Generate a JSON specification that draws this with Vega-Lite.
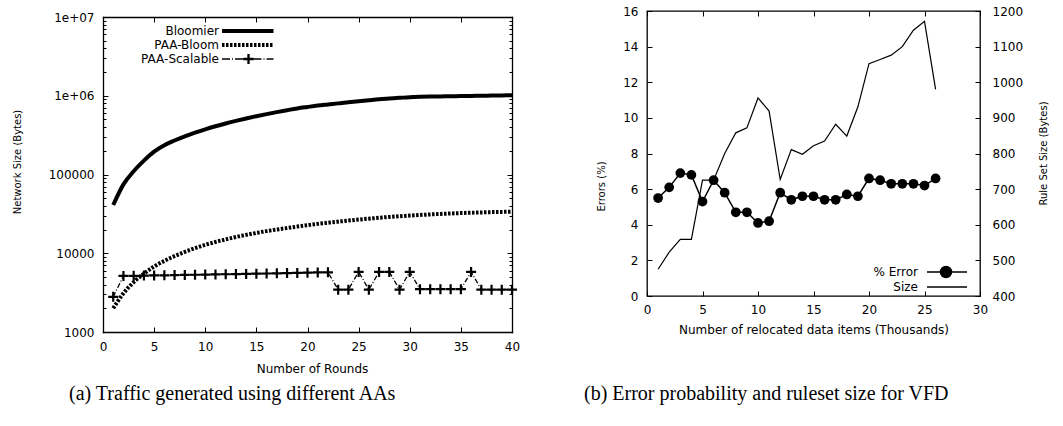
{
 "$schema": "https://vega.github.io/schema/vega-lite/v6.json",
 "background": "white",
 "padding": {"left": 11, "top": 4, "right": 0, "bottom": 0},
 "spacing": 60,
 "columns": 2,
 "align": "none",
 "datasets": {
  "rounds": [
   {"r":1,"v":41000,"s":"Bloomier"},{"r":2,"v":75000,"s":"Bloomier"},{"r":3,"v":110000,"s":"Bloomier"},{"r":4,"v":150000,"s":"Bloomier"},{"r":5,"v":195000,"s":"Bloomier"},{"r":6,"v":235000,"s":"Bloomier"},{"r":7,"v":270000,"s":"Bloomier"},{"r":8,"v":305000,"s":"Bloomier"},{"r":9,"v":340000,"s":"Bloomier"},{"r":10,"v":375000,"s":"Bloomier"},
   {"r":11,"v":410000,"s":"Bloomier"},{"r":12,"v":445000,"s":"Bloomier"},{"r":13,"v":480000,"s":"Bloomier"},{"r":14,"v":515000,"s":"Bloomier"},{"r":15,"v":550000,"s":"Bloomier"},{"r":16,"v":585000,"s":"Bloomier"},{"r":17,"v":620000,"s":"Bloomier"},{"r":18,"v":655000,"s":"Bloomier"},{"r":19,"v":690000,"s":"Bloomier"},{"r":20,"v":720000,"s":"Bloomier"},
   {"r":21,"v":750000,"s":"Bloomier"},{"r":22,"v":775000,"s":"Bloomier"},{"r":23,"v":800000,"s":"Bloomier"},{"r":24,"v":825000,"s":"Bloomier"},{"r":25,"v":850000,"s":"Bloomier"},{"r":26,"v":875000,"s":"Bloomier"},{"r":27,"v":900000,"s":"Bloomier"},{"r":28,"v":920000,"s":"Bloomier"},{"r":29,"v":940000,"s":"Bloomier"},{"r":30,"v":960000,"s":"Bloomier"},
   {"r":31,"v":970000,"s":"Bloomier"},{"r":32,"v":975000,"s":"Bloomier"},{"r":33,"v":980000,"s":"Bloomier"},{"r":34,"v":985000,"s":"Bloomier"},{"r":35,"v":990000,"s":"Bloomier"},{"r":36,"v":995000,"s":"Bloomier"},{"r":37,"v":1000000,"s":"Bloomier"},{"r":38,"v":1005000,"s":"Bloomier"},{"r":39,"v":1010000,"s":"Bloomier"},{"r":40,"v":1015000,"s":"Bloomier"},
   {"r":1,"v":2000,"s":"PAA-Bloom"},{"r":2,"v":3100,"s":"PAA-Bloom"},{"r":3,"v":4300,"s":"PAA-Bloom"},{"r":4,"v":5500,"s":"PAA-Bloom"},{"r":5,"v":6800,"s":"PAA-Bloom"},{"r":6,"v":8000,"s":"PAA-Bloom"},{"r":7,"v":9200,"s":"PAA-Bloom"},{"r":8,"v":10400,"s":"PAA-Bloom"},{"r":9,"v":11600,"s":"PAA-Bloom"},{"r":10,"v":12800,"s":"PAA-Bloom"},
   {"r":11,"v":13900,"s":"PAA-Bloom"},{"r":12,"v":15000,"s":"PAA-Bloom"},{"r":13,"v":16100,"s":"PAA-Bloom"},{"r":14,"v":17100,"s":"PAA-Bloom"},{"r":15,"v":18100,"s":"PAA-Bloom"},{"r":16,"v":19100,"s":"PAA-Bloom"},{"r":17,"v":20000,"s":"PAA-Bloom"},{"r":18,"v":20900,"s":"PAA-Bloom"},{"r":19,"v":21800,"s":"PAA-Bloom"},{"r":20,"v":22700,"s":"PAA-Bloom"},
   {"r":21,"v":23600,"s":"PAA-Bloom"},{"r":22,"v":24400,"s":"PAA-Bloom"},{"r":23,"v":25200,"s":"PAA-Bloom"},{"r":24,"v":26000,"s":"PAA-Bloom"},{"r":25,"v":26800,"s":"PAA-Bloom"},{"r":26,"v":27500,"s":"PAA-Bloom"},{"r":27,"v":28200,"s":"PAA-Bloom"},{"r":28,"v":28900,"s":"PAA-Bloom"},{"r":29,"v":29500,"s":"PAA-Bloom"},{"r":30,"v":30100,"s":"PAA-Bloom"},
   {"r":31,"v":30600,"s":"PAA-Bloom"},{"r":32,"v":31100,"s":"PAA-Bloom"},{"r":33,"v":31600,"s":"PAA-Bloom"},{"r":34,"v":32000,"s":"PAA-Bloom"},{"r":35,"v":32400,"s":"PAA-Bloom"},{"r":36,"v":32700,"s":"PAA-Bloom"},{"r":37,"v":33000,"s":"PAA-Bloom"},{"r":38,"v":33300,"s":"PAA-Bloom"},{"r":39,"v":33500,"s":"PAA-Bloom"},{"r":40,"v":33700,"s":"PAA-Bloom"},
   {"r":1,"v":2800,"s":"PAA-Scalable"},{"r":2,"v":5150,"s":"PAA-Scalable"},{"r":3,"v":5170,"s":"PAA-Scalable"},{"r":4,"v":5200,"s":"PAA-Scalable"},{"r":5,"v":5230,"s":"PAA-Scalable"},{"r":6,"v":5250,"s":"PAA-Scalable"},{"r":7,"v":5280,"s":"PAA-Scalable"},{"r":8,"v":5300,"s":"PAA-Scalable"},{"r":9,"v":5330,"s":"PAA-Scalable"},{"r":10,"v":5360,"s":"PAA-Scalable"},
   {"r":11,"v":5380,"s":"PAA-Scalable"},{"r":12,"v":5410,"s":"PAA-Scalable"},{"r":13,"v":5440,"s":"PAA-Scalable"},{"r":14,"v":5470,"s":"PAA-Scalable"},{"r":15,"v":5500,"s":"PAA-Scalable"},{"r":16,"v":5530,"s":"PAA-Scalable"},{"r":17,"v":5560,"s":"PAA-Scalable"},{"r":18,"v":5600,"s":"PAA-Scalable"},{"r":19,"v":5630,"s":"PAA-Scalable"},{"r":20,"v":5660,"s":"PAA-Scalable"},
   {"r":21,"v":5700,"s":"PAA-Scalable"},{"r":22,"v":5730,"s":"PAA-Scalable"},{"r":23,"v":3450,"s":"PAA-Scalable"},{"r":24,"v":3450,"s":"PAA-Scalable"},{"r":25,"v":5800,"s":"PAA-Scalable"},{"r":26,"v":3450,"s":"PAA-Scalable"},{"r":27,"v":5800,"s":"PAA-Scalable"},{"r":28,"v":5800,"s":"PAA-Scalable"},{"r":29,"v":3450,"s":"PAA-Scalable"},{"r":30,"v":5800,"s":"PAA-Scalable"},
   {"r":31,"v":3500,"s":"PAA-Scalable"},{"r":32,"v":3500,"s":"PAA-Scalable"},{"r":33,"v":3500,"s":"PAA-Scalable"},{"r":34,"v":3500,"s":"PAA-Scalable"},{"r":35,"v":3500,"s":"PAA-Scalable"},{"r":36,"v":5800,"s":"PAA-Scalable"},{"r":37,"v":3450,"s":"PAA-Scalable"},{"r":38,"v":3450,"s":"PAA-Scalable"},{"r":39,"v":3450,"s":"PAA-Scalable"},{"r":40,"v":3450,"s":"PAA-Scalable"}
  ],
  "reloc": [
   {"k":1,"e":5.5,"z":475},{"k":2,"e":6.1,"z":523},{"k":3,"e":6.9,"z":559},{"k":4,"e":6.8,"z":559},{"k":5,"e":5.3,"z":725},{"k":6,"e":6.5,"z":725},{"k":7,"e":5.8,"z":800},{"k":8,"e":4.7,"z":858},{"k":9,"e":4.7,"z":872},{"k":10,"e":4.1,"z":956},
   {"k":11,"e":4.2,"z":919},{"k":12,"e":5.8,"z":727},{"k":13,"e":5.4,"z":811},{"k":14,"e":5.6,"z":798},{"k":15,"e":5.6,"z":822},{"k":16,"e":5.4,"z":835},{"k":17,"e":5.4,"z":882},{"k":18,"e":5.7,"z":849},{"k":19,"e":5.6,"z":931},{"k":20,"e":6.6,"z":1052},
   {"k":21,"e":6.5,"z":1064},{"k":22,"e":6.3,"z":1076},{"k":23,"e":6.3,"z":1100},{"k":24,"e":6.3,"z":1146},{"k":25,"e":6.2,"z":1171},{"k":26,"e":6.6,"z":980}
  ]
 },
 "config": {
  "font": "DejaVu Sans",
  "view": {"stroke": "black", "strokeWidth": 1.3},
  "axis": {"grid": false, "domain": false, "domainColor": "black", "domainWidth": 1.3, "domainCap": "square", "tickColor": "black", "tickWidth": 1, "tickSize": -5, "labelColor": "black", "labelFont": "DejaVu Sans", "labelFontSize": 12, "titleColor": "black", "titleFont": "DejaVu Sans", "titleFontWeight": "normal", "labelFlush": false, "labelOverlap": false, "labelBound": false},
  "legend": {"labelFont": "DejaVu Sans", "labelFontSize": 12, "labelColor": "black", "padding": 0, "labelLimit": 300},
  "title": {"font": "Liberation Serif", "fontSize": 20, "fontWeight": "normal", "color": "black"}
 },
 "resolve": {"scale": {"color": "independent"}, "legend": {"color": "independent"}},
 "concat": [
  {
   "width": 409, "height": 321,
   "view": {"stroke": "transparent"},
   "data": {"name": "rounds"},
   "title": {"text": "(a) Traffic generated using different AAs", "orient": "bottom", "anchor": "start", "frame": "group", "dx": -34, "offset": 9},
   "layer": [
    {
     "transform": [{"filter": "datum.s === 'Bloomier'"}],
     "mark": {"type": "line", "strokeWidth": 4, "interpolate": "monotone"},
     "encoding": {
      "x": {"field": "r", "type": "quantitative", "scale": {"domain": [0, 40]},
            "axis": {"orient": "bottom", "domain": true, "values": [0,5,10,15,20,25,30,35,40], "title": "Number of Rounds", "titleFontSize": 12, "labelPadding": 14.6, "titlePadding": 11, "titleX": 209}},
      "y": {"field": "v", "type": "quantitative", "scale": {"type": "log", "domain": [1000, 10000000], "range": [321, 6]},
            "axis": {"orient": "left", "domain": true, "values": [1000,10000,100000,1000000,10000000], "labelExpr": "datum.value >= 1e7 ? '1e+07' : (datum.value >= 1e6 ? '1e+06' : format(datum.value, 'd'))", "labelPadding": 14, "title": "Network Size (Bytes)", "titleFontSize": 10, "titleAngle": 270, "titleAlign": "center", "titleBaseline": "middle", "titleX": -86, "titleY": 150.5}},
      "color": {"field": "s", "type": "nominal", "scale": {"domain": ["Bloomier", "PAA-Bloom", "PAA-Scalable"], "range": ["black", "black", "black"]},
                "legend": {"orient": "none", "legendX": 59, "legendY": 14, "title": null, "symbolType": "stroke", "symbolSize": 100, "symbolStrokeWidth": 1.5, "labelAlign": "right", "rowPadding": -2,
                  "encode": {
                   "labels": {"update": {"x": {"value": 57}, "align": {"value": "right"}}},
                   "symbols": {"update": {
                    "x": {"value": 60},
                    "shape": {"signal": "datum.value === 'PAA-Scalable' ? 'M0,0H1.6M2,0H2.2M2.6,0H4.3M6.3,0H7.9M8.3,0H8.5M8.9,0H10.3M4.3,-0.1H6.3M4.3,0.1H6.3M5.2,-1V1M5.4,-1V1' : 'M0,0H10.3'"},
                    "strokeWidth": {"signal": "datum.value === 'PAA-Scalable' ? 1.3 : 4"},
                    "strokeDash": {"signal": "datum.value === 'PAA-Bloom' ? [2.5, 1.5] : []"},
                    "stroke": {"value": "black"},
                    "fill": {"value": "black"},
                    "opacity": {"value": 1}
                  }}}}}
     }
    },
    {
     "transform": [{"filter": "datum.s === 'PAA-Bloom'"}],
     "mark": {"type": "line", "strokeWidth": 4, "strokeDash": [2.5, 1.5], "color": "black", "interpolate": "monotone"},
     "encoding": {
      "x": {"field": "r", "type": "quantitative", "axis": {"orient": "top", "domain": true, "offset": -6, "values": [0,5,10,15,20,25,30,35,40], "labels": false, "title": null}},
      "y": {"field": "v", "type": "quantitative", "axis": {"orient": "right", "domain": true, "values": [1000,10000,100000,1000000,10000000], "labels": false, "title": null}}
     }
    },
    {
     "transform": [{"filter": "datum.s === 'PAA-Scalable'"}],
     "mark": {"type": "line", "strokeWidth": 1.3, "strokeDash": [5, 2, 1, 2], "color": "black"},
     "encoding": {
      "x": {"field": "r", "type": "quantitative", "axis": null},
      "y": {"field": "v", "type": "quantitative", "axis": {"orient": "left", "values": [2000,3000,4000,5000,6000,7000,8000,9000,20000,30000,40000,50000,60000,70000,80000,90000,200000,300000,400000,500000,600000,700000,800000,900000,2000000,3000000,4000000,5000000,6000000,7000000,8000000,9000000], "tickSize": -3, "labels": false, "title": null}}
     }
    },
    {
     "transform": [{"filter": "datum.s === 'PAA-Scalable'"}],
     "mark": {"type": "point", "shape": "M-1,0H1M0,-1V1", "size": 100, "filled": false, "color": "black", "strokeWidth": 2.2, "opacity": 1},
     "encoding": {
      "x": {"field": "r", "type": "quantitative", "axis": null},
      "y": {"field": "v", "type": "quantitative", "axis": {"orient": "right", "values": [2000,3000,4000,5000,6000,7000,8000,9000,20000,30000,40000,50000,60000,70000,80000,90000,200000,300000,400000,500000,600000,700000,800000,900000,2000000,3000000,4000000,5000000,6000000,7000000,8000000,9000000], "tickSize": -3, "labels": false, "title": null}}
     }
    }
   ],
   "resolve": {"axis": {"x": "independent", "y": "independent"}}
  },
  {
   "width": 333, "height": 285,
   "data": {"name": "reloc"},
   "title": {"text": "(b) Error probability and ruleset size for VFD", "orient": "bottom", "anchor": "start", "frame": "group", "dx": -63, "offset": 48},
   "layer": [
    {
     "mark": {"type": "line", "strokeWidth": 1.5, "color": "black", "point": {"filled": true, "size": 95, "color": "black", "opacity": 1}},
     "encoding": {
      "x": {"field": "k", "type": "quantitative", "scale": {"domain": [0, 30]},
            "axis": {"orient": "bottom", "values": [0,5,10,15,20,25,30], "title": "Number of relocated data items (Thousands)", "titleFontSize": 12, "labelPadding": 13.9, "titlePadding": 8.7}},
      "y": {"field": "e", "type": "quantitative", "scale": {"domain": [0, 16]},
            "axis": {"orient": "left", "values": [0,2,4,6,8,10,12,14,16], "labelPadding": 14, "title": "Errors (%)", "titleFontSize": 10, "titleAngle": 270, "titleAlign": "center", "titleBaseline": "middle", "titleX": -46, "titleY": 175}},
      "color": {"datum": "% Error", "type": "nominal", "scale": {"domain": ["% Error", "Size"], "range": ["black", "black"]},
                "legend": {"orient": "none", "legendX": 274, "legendY": 255, "title": null, "symbolType": "stroke", "symbolSize": 100, "symbolStrokeWidth": 1.5, "labelAlign": "right", "labelOffset": -15, "rowPadding": -6,
                  "encode": {"symbols": {"update": {
                    "shape": {"signal": "datum.value === '% Error' ? 'M0,0H8M2.7,0A1.1,1.1,0,1,1,4.9,0A1.1,1.1,0,1,1,2.7,0Z' : 'M0,0H8'"},
                    "strokeWidth": {"value": 1.5},
                    "stroke": {"value": "black"},
                    "fill": {"value": "black"},
                    "opacity": {"value": 1}
                  }}}}}
     }
    },
    {
     "mark": {"type": "line", "strokeWidth": 1.2, "color": "black"},
     "encoding": {
      "x": {"field": "k", "type": "quantitative", "axis": {"orient": "top", "values": [0,5,10,15,20,25,30], "labels": false, "title": null}},
      "y": {"field": "z", "type": "quantitative", "scale": {"domain": [400, 1200]},
            "axis": {"orient": "right", "values": [400,500,600,700,800,900,1000,1100,1200], "format": "d", "labelPadding": 17, "title": "Rule Set Size (Bytes)", "titleFontSize": 10, "titleAngle": 270, "titleAlign": "center", "titleBaseline": "middle", "titleX": 63, "titleY": 142}},
      "color": {"datum": "Size", "type": "nominal"}
     }
    }
   ],
   "resolve": {"scale": {"y": "independent"}, "axis": {"x": "independent", "y": "independent"}}
  }
 ]
}
